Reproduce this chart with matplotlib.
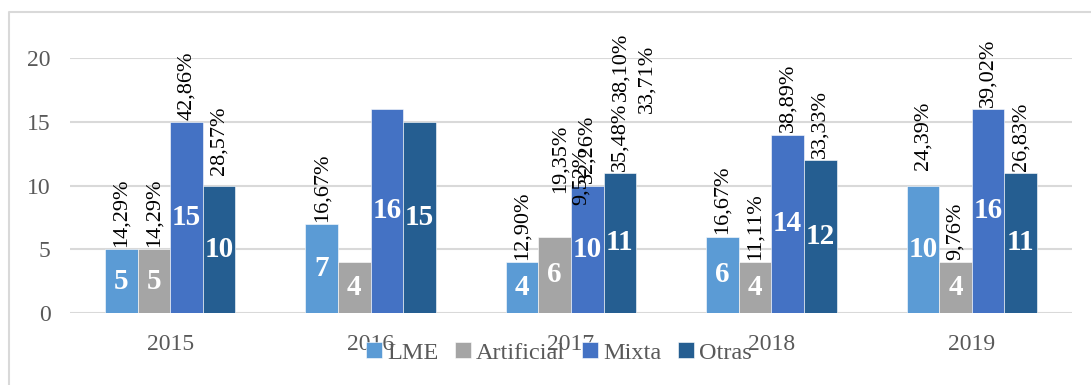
import matplotlib.pyplot as plt
import numpy as np
from matplotlib.lines import Line2D

plt.rcParams['font.family'] = ['Liberation Serif', 'DejaVu Serif']

years = ['2015', '2016', '2017', '2018', '2019']
series = ['LME', 'Artificial', 'Mixta', 'Otras']
colors = ['#5B9BD5', '#A5A5A5', '#4472C4', '#255E91']

lme = [5, 7, 4, 6, 10]
artificial = [5, 4, 6, 4, 4]
mixta = [15, 16, 10, 14, 16]
otras = [10, 15, 11, 12, 11]

lme_pct = ['14,29%', '16,67%', '12,90%', '16,67%', '24,39%']
artificial_pct = ['14,29%', None, '19,35%', '11,11%', '9,76%']
mixta_pct = ['42,86%', None, '32,26%', '38,89%', '39,02%']
otras_pct = ['28,57%', None, '35,48%', '33,33%', '26,83%']

# loose labels left over in the 2017 group
extra_labels = [('9,52%', 2.05, 8.45), ('38,10%', 2.25, 16.6), ('33,71%', 2.38, 15.7)]

values = [lme, artificial, mixta, otras]
pcts = [lme_pct, artificial_pct, mixta_pct, otras_pct]

# nudges (dx, dy in pixels) for labels that sit off their bar
nudge = {(3, 0): (0, 8), (0, 4): (0, 13), (1, 2): (5, 41)}

fig = plt.figure(figsize=(10.91, 3.85), dpi=100)
ax = fig.add_axes([70 / 1091, 1 - 313 / 385, (1072 - 70) / 1091, (313 - 58) / 385])

x = np.arange(len(years))
w = 0.1625
for i, (name, vals, col) in enumerate(zip(series, values, colors)):
    xs = x + (i - 1.5) * w
    bars = ax.bar(xs, vals, w, color=col, edgecolor='white', linewidth=0.4, label=name, zorder=2)
    for j, b in enumerate(bars):
        h = b.get_height()
        ax.text(b.get_x() + w / 2, h / 2, str(vals[j]), ha='center', va='center',
                color='white', fontsize=21, fontweight='bold', zorder=3)
        p = pcts[i][j]
        if p:
            dx, dy = nudge.get((i, j), (0, 0))
            ax.annotate(p, (b.get_x() + w / 2, h), xytext=(dx * 0.72, 1.5 + dy * 0.72),
                        textcoords='offset points', rotation=90, ha='center', va='bottom',
                        fontsize=16, color='black', annotation_clip=False, zorder=4)

for txt, xp, yp in extra_labels:
    ax.text(xp, yp, txt, rotation=90, ha='center', va='bottom', fontsize=16, color='black', zorder=4)

ax.set_xlim(-0.5, len(years) - 0.5)
ax.set_ylim(0, 20)
ax.set_yticks([0, 5, 10, 15, 20])
ax.set_xticks(x)
ax.set_xticklabels(years)
ax.yaxis.grid(True, color='#D9D9D9', linewidth=1.5, zorder=0)
ax.set_axisbelow(True)
for s in ax.spines.values():
    s.set_visible(False)
ax.tick_params(axis='both', length=0, labelsize=17, labelcolor='#595959')
ax.tick_params(axis='y', pad=14)
ax.tick_params(axis='x', pad=15)

leg = fig.legend(loc='center', bbox_to_anchor=(559 / 1091, 1 - 353 / 385), ncol=4, frameon=False,
                 fontsize=17.5, handlelength=0.65, handleheight=0.65, handletextpad=0.2,
                 columnspacing=0.7, labelcolor='#595959')

# outer frame of the chart area
fig.add_artist(Line2D([9 / 1091, 9 / 1091, 1.0], [0, 1 - 12 / 385, 1 - 12 / 385],
                      transform=fig.transFigure, color='#D9D9D9', linewidth=1.5))

fig.savefig('out.png', dpi=100)
